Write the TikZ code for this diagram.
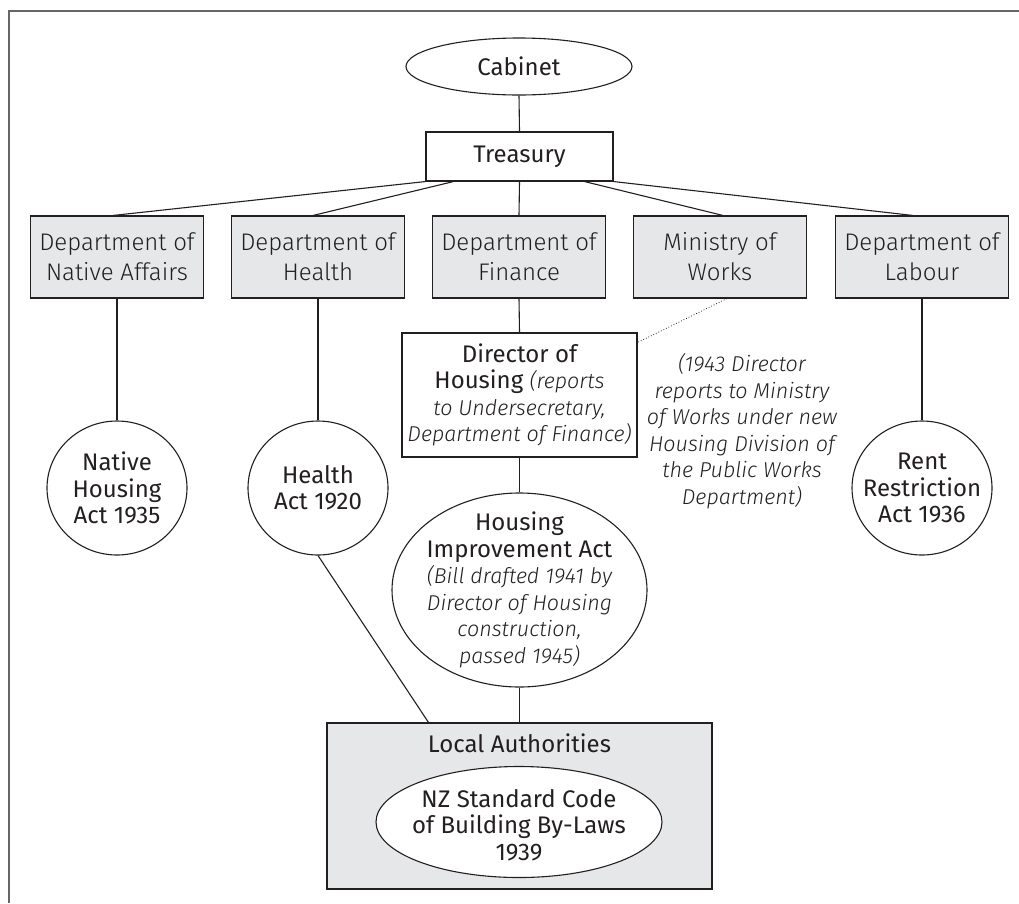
\documentclass[tikz,border=0pt]{standalone}
\usepackage{fontspec}
\setmainfont{Fira Sans}
\newfontfamily\lt{Fira Sans}[UprightFont={* Light}, ItalicFont={* Light Italic}]
\usetikzlibrary{shapes.geometric,calc}
\definecolor{boxgrey}{HTML}{E6E7E8}
\definecolor{ink}{HTML}{231F20}
\definecolor{framegrey}{HTML}{666666}
\newcommand{\itl}{\lt\itshape\fontsize{21.5}{26.5}\selectfont}
\tikzset{
  base/.style={draw=ink, line width=1.1pt, inner sep=0pt, text=ink, align=center},
  dept/.style={base, fill=boxgrey, minimum width=173pt, minimum height=82pt, font=\lt\fontsize{24}{30}\selectfont},
  topbox/.style={base, fill=white, font=\fontsize{24}{30}\selectfont},
  actcircle/.style={base, ellipse, fill=white, minimum width=140pt, minimum height=134pt},
  shapeellipse/.style={base, ellipse, fill=white},
  txt/.style={inner sep=0pt, text=ink, align=center, font=\fontsize{24}{26.5}\selectfont},
  note/.style={inner sep=0pt, text=ink, align=center, font=\itl},
  link/.style={draw=ink, line width=1.1pt},
  dotlink/.style={draw=ink, line width=0.8pt, dotted}
}
\begin{document}
\begin{tikzpicture}[x=1pt, y=-1pt]
\useasboundingbox (0,0) rectangle (1019,903);
\draw[framegrey, line width=2pt] (9,903) -- (9,11) -- (1019,11);

% top
\node[shapeellipse, minimum width=226pt, minimum height=57pt] (cab) at (519,66.5) {};
\node[txt] at (cab.center) {Cabinet};
\node[topbox, minimum width=187pt, minimum height=49pt] (tre) at (519.5,156.5) {Treasury};

% departments
\node[dept] (dna) at (117,257) {Department of\\Native Affairs};
\node[dept] (dh)  at (318,257) {Department of\\Health};
\node[dept] (df)  at (519,257) {Department of\\Finance};
\node[dept] (mw)  at (720,257) {Ministry of\\Works};
\node[dept] (dl)  at (922,257) {Department of\\Labour};

% acts
\node[actcircle] (nha) at (117,488) {};
\node[txt] at (nha.center) {Native\\Housing\\Act 1935};
\node[actcircle] (ha) at (318,488) {};
\node[txt] at (ha.center) {Health\\Act 1920};
\node[actcircle] (rra) at (922,488) {};
\node[txt] at (rra.center) {Rent\\Restriction\\Act 1936};

% director
\node[base, fill=white, minimum width=235pt, minimum height=124pt] (dir) at (519.5,395) {};
\node[txt] at (dir.center) {Director of\\Housing {\itl (reports}\\{\itl to Undersecretary,}\\{\itl Department of Finance)}};

% annotation
\node[note] (ann) at (742,431) {(1943 Director\\reports to Ministry\\of Works under new\\Housing Division of\\the Public Works\\Department)};

% housing improvement act
\node[shapeellipse, minimum width=255pt, minimum height=194pt] (hia) at (519.5,590) {};
\node[txt] at (hia.center) {Housing\\Improvement Act\\{\itl (Bill drafted 1941 by}\\{\itl Director of Housing}\\{\itl construction,}\\{\itl passed 1945)}};

% local authorities
\node[base, fill=boxgrey, minimum width=385pt, minimum height=166pt] (la) at (519.5,806) {};
\node[txt] at (519.5,743) {Local Authorities};
\node[shapeellipse, minimum width=286pt, minimum height=111pt] (nz) at (519,822) {};
\node[txt] at ($(nz.center)+(0,3)$) {NZ Standard Code\\of Building By-Laws\\1939};

% connectors
\draw[link] (cab.south) -- (tre.north);
\draw[link] (tre.south west) -- ([xshift=-4pt]dna.north);
\draw[link] ([xshift=-66pt]tre.south) -- ([xshift=-5pt]dh.north);
\draw[link] (tre.south) -- (df.north);
\draw[link] ([xshift=65pt]tre.south) -- ([xshift=3pt]mw.north);
\draw[link] (tre.south east) -- ([xshift=-9pt]dl.north);
\draw[link] (dna.south) -- (nha.north);
\draw[link] (dh.south) -- (ha.north);
\draw[link] (dl.south) -- (rra.north);
\draw[link] (df.south) -- (dir.north);
\draw[link] (dir.south) -- (hia.north);
\draw[link] (hia.south) -- (la.north);
\draw[link] (ha.south) -- ([xshift=-91pt]la.north);
\draw[dotlink] ([xshift=7pt]mw.south) -- ([yshift=-10pt]dir.north east);
\end{tikzpicture}
\end{document}
